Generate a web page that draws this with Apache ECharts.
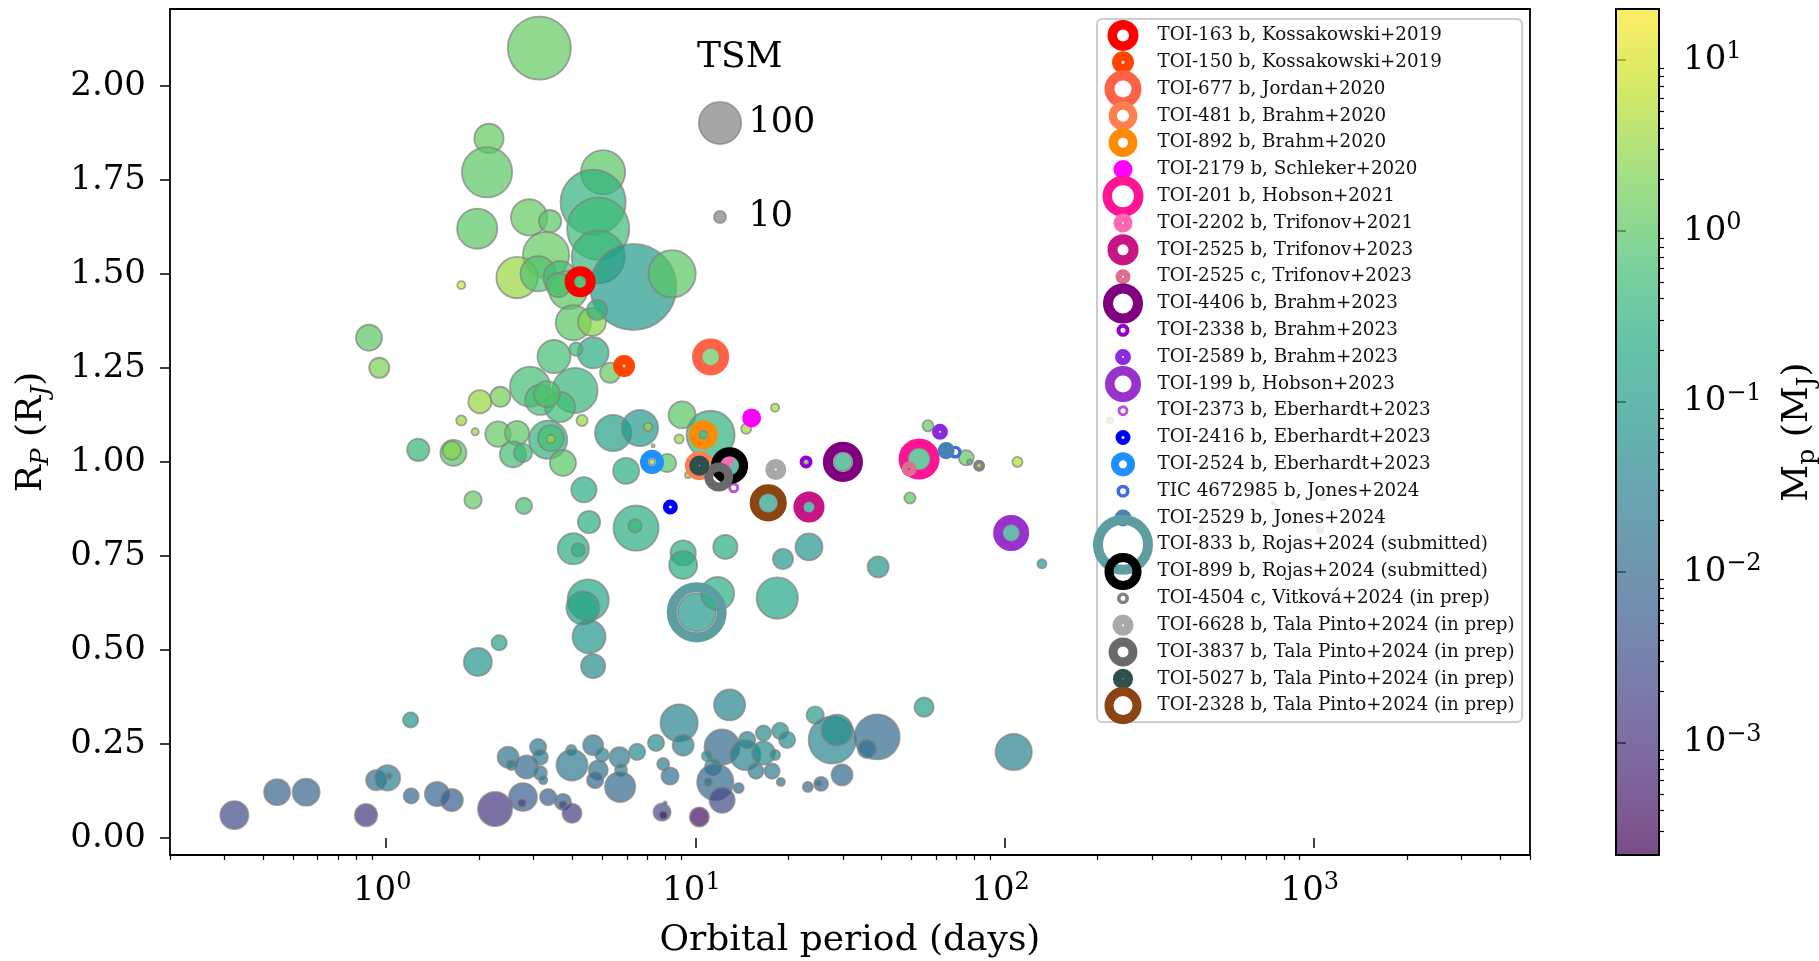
<!DOCTYPE html>
<html>
<head>
<meta charset="utf-8">
<title>Planet radius vs orbital period</title>
<script src="https://cdn.jsdelivr.net/npm/echarts@6/dist/echarts.min.js"></script>
<style>
  html, body { margin: 0; padding: 0; background: #ffffff; }
  #chart { width: 1819px; height: 961px; }
</style>
</head>
<body>
<div id="chart"></div>
<script>
// ---------------------------------------------------------------------------
// Data
// ---------------------------------------------------------------------------

// Known planets: [orbital period (days), radius (R_J), mass (M_J), TSM]
const catalog = [
  [3.13, 2.10, 1.26, 218], [2.15, 1.86, 1.26, 50], [2.12, 1.77, 1.0, 140], [1.97, 1.62, 1.0, 91],
  [1.75, 1.47, 10, 5], [0.88, 1.33, 1.0, 40], [0.95, 1.25, 2.0, 25], [2.01, 1.16, 3.2, 32],
  [1.75, 1.11, 3.2, 7.4], [1.94, 1.08, 3.2, 4.2], [5.03, 1.77, 1.0, 109], [4.67, 1.69, 0.32, 232],
  [4.85, 1.62, 0.5, 212], [4.85, 1.545, 0.4, 156], [6.3, 1.465, 0.1, 400], [8.41, 1.50, 1.0, 124],
  [2.9, 1.65, 1.26, 75], [3.39, 1.64, 1.0, 30], [3.29, 1.55, 1.26, 119], [2.65, 1.49, 3.2, 96],
  [3.1, 1.50, 0.79, 71], [3.65, 1.49, 0.63, 63], [3.88, 1.457, 1.0, 83], [4.24, 1.479, 0.63, 17],
  [3.6, 1.47, 0.79, 35], [4.03, 1.37, 1.0, 71], [4.63, 1.372, 2.5, 46], [4.81, 1.404, 0.32, 25],
  [4.67, 1.29, 0.25, 56], [3.49, 1.28, 0.63, 63], [4.11, 1.30, 0.5, 12], [5.3, 1.237, 1.26, 25],
  [5.88, 1.255, 4.0, 3.3], [2.92, 1.20, 0.63, 91], [4.08, 1.19, 0.4, 114], [3.15, 1.165, 0.63, 53],
  [2.34, 1.173, 1.6, 25], [4.3, 1.11, 3.2, 8.7], [3.65, 1.146, 0.5, 53], [3.31, 1.18, 0.79, 40],
  [2.3, 1.074, 1.26, 38], [2.65, 1.077, 1.0, 35], [2.57, 1.02, 0.63, 40], [2.77, 1.024, 0.5, 21],
  [3.34, 1.059, 0.32, 83], [3.41, 1.063, 0.63, 40], [3.41, 1.061, 4.0, 5.2], [3.73, 0.997, 1.0, 40],
  [5.42, 1.077, 0.126, 75], [6.62, 1.09, 0.1, 75], [7.03, 1.093, 4.0, 5.2], [9.06, 1.125, 1.0, 43],
  [11.2, 1.072, 0.32, 129], [10.6, 1.072, 0.63, 5.2], [8.86, 1.061, 3.2, 6.2], [7.3, 1.043, 7.9, 1.3],
  [8.1, 0.997, 1.0, 21], [7.24, 1.0, 3.2, 3.3], [5.97, 0.976, 0.25, 40], [4.36, 0.926, 0.25, 38],
  [4.53, 0.84, 0.25, 30], [4.03, 0.769, 0.25, 56], [4.18, 0.766, 0.32, 12], [6.43, 0.824, 0.25, 114],
  [6.38, 0.83, 0.4, 12], [1.91, 0.899, 1.26, 19], [2.79, 0.883, 0.63, 17], [1.27, 1.032, 0.4, 30],
  [1.65, 1.024, 1.0, 40], [1.63, 1.03, 2.5, 21], [4.5, 0.633, 0.2, 96], [4.33, 0.612, 0.126, 63],
  [4.53, 0.535, 0.079, 63], [4.67, 0.457, 0.05, 35], [1.98, 0.468, 0.079, 46], [2.32, 0.519, 0.16, 15],
  [1.2, 0.314, 0.079, 15], [9.13, 0.758, 0.25, 38], [9.13, 0.726, 0.25, 46], [12.5, 0.774, 0.25, 35],
  [23.3, 0.774, 0.079, 43], [19.2, 0.742, 0.1, 25], [39.0, 0.721, 0.079, 27], [10.1, 0.60, 0.1, 83],
  [11.8, 0.65, 0.25, 63], [18.4, 0.638, 0.2, 96], [11.2, 1.279, 1.26, 21], [52.9, 1.008, 0.32, 30],
  [23.3, 0.88, 0.1, 10], [30.0, 1.0, 0.25, 21], [105, 0.811, 0.126, 19], [17.2, 0.891, 0.126, 23],
  [12.9, 0.99, 0.16, 25], [22.8, 1.0, 3.2, 2], [82.7, 0.99, 4.0, 2], [14.6, 1.088, 3.2, 7.4],
  [18.1, 1.144, 4.0, 5.2], [9.47, 0.965, 3.2, 3.3], [56.5, 1.096, 1.26, 8.7], [75.1, 1.011, 1.26, 15],
  [77, 1.0, 0.63, 2.5], [110, 1.0, 5.0, 7.4], [49.4, 0.904, 1.0, 8.7], [132, 0.729, 0.1, 6.2],
  [219, 1.11, 1.0, 3.3], [431, 0.824, 0.1, 2], [738, 0.891, 0.126, 1.3], [1070, 0.907, 0.25, 3.3],
  [1047, 0.819, 0.25, 3.3],
  [0.323, 0.061, 0.0025, 46], [0.444, 0.122, 0.008, 40], [0.551, 0.122, 0.008, 43], [0.861, 0.061, 0.00126, 30],
  [0.928, 0.154, 0.016, 25], [1.01, 0.16, 0.025, 38], [1.02, 0.165, 0.04, 3.3], [1.205, 0.112, 0.008, 15],
  [1.46, 0.117, 0.008, 35], [1.63, 0.101, 0.0063, 30], [2.25, 0.077, 0.00126, 67], [2.77, 0.109, 0.0063, 46],
  [2.75, 0.093, 0.002, 5.2], [3.34, 0.109, 0.0063, 17], [3.73, 0.096, 0.008, 17], [3.73, 0.088, 0.0025, 5.2],
  [3.99, 0.066, 0.0016, 23], [2.48, 0.215, 0.016, 27], [2.54, 0.194, 0.032, 7.4], [2.84, 0.189, 0.01, 32],
  [3.1, 0.242, 0.02, 17], [3.15, 0.215, 0.02, 15], [3.15, 0.173, 0.02, 12], [3.22, 0.154, 0.02, 5.2],
  [3.97, 0.234, 0.032, 7.4], [3.99, 0.194, 0.02, 56], [4.67, 0.247, 0.016, 25], [4.99, 0.221, 0.032, 12],
  [4.85, 0.181, 0.016, 23], [4.74, 0.154, 0.01, 17], [5.68, 0.215, 0.02, 25], [5.75, 0.181, 0.032, 10],
  [5.71, 0.136, 0.01, 53], [6.48, 0.229, 0.05, 17], [7.46, 0.253, 0.05, 17], [8.86, 0.306, 0.032, 79],
  [9.13, 0.247, 0.032, 27], [7.87, 0.197, 0.025, 10], [8.28, 0.165, 0.0126, 19], [7.8, 0.069, 0.0032, 19],
  [7.87, 0.061, 0.0005, 5.2], [7.98, 0.093, 0.01, 1.3], [12.9, 0.354, 0.032, 56], [12.2, 0.242, 0.01, 71],
  [14.7, 0.261, 0.032, 17], [14.5, 0.221, 0.032, 53], [16.6, 0.279, 0.05, 15], [16.6, 0.226, 0.05, 32],
  [18.8, 0.285, 0.05, 17], [19.8, 0.261, 0.05, 17], [18.1, 0.221, 0.05, 7.4], [17.7, 0.178, 0.025, 15],
  [15.7, 0.178, 0.025, 15], [18.9, 0.149, 0.016, 5.2], [10.9, 0.218, 0.05, 7.4], [11.4, 0.189, 0.04, 17],
  [11.6, 0.149, 0.01, 75], [11.0, 0.149, 0.016, 5.2], [13.8, 0.133, 0.01, 7.4], [12.2, 0.101, 0.0025, 38],
  [10.3, 0.056, 0.00032, 23], [24.4, 0.327, 0.126, 19], [27.7, 0.261, 0.04, 124], [28.7, 0.287, 0.05, 56],
  [38.7, 0.269, 0.01, 114], [35.9, 0.237, 0.016, 21], [29.8, 0.168, 0.01, 27], [23.1, 0.136, 0.01, 7.4],
  [25.5, 0.144, 0.01, 13], [25.0, 0.146, 0.032, 3.3], [54.9, 0.348, 0.126, 23], [107, 0.229, 0.032, 75]
];

// Highlighted planets (drawn as rings, listed in the legend)
const highlightNames = [
  'TOI-163 b, Kossakowski+2019', 'TOI-150 b, Kossakowski+2019', 'TOI-677 b, Jordan+2020',
  'TOI-481 b, Brahm+2020', 'TOI-892 b, Brahm+2020', 'TOI-2179 b, Schleker+2020',
  'TOI-201 b, Hobson+2021', 'TOI-2202 b, Trifonov+2021', 'TOI-2525 b, Trifonov+2023',
  'TOI-2525 c, Trifonov+2023', 'TOI-4406 b, Brahm+2023', 'TOI-2338 b, Brahm+2023',
  'TOI-2589 b, Brahm+2023', 'TOI-199 b, Hobson+2023', 'TOI-2373 b, Eberhardt+2023',
  'TOI-2416 b, Eberhardt+2023', 'TOI-2524 b, Eberhardt+2023', 'TIC 4672985 b, Jones+2024',
  'TOI-2529 b, Jones+2024', 'TOI-833 b, Rojas+2024 (submitted)', 'TOI-899 b, Rojas+2024 (submitted)',
  'TOI-4504 c, Vitková+2024 (in prep)', 'TOI-6628 b, Tala Pinto+2024 (in prep)',
  'TOI-3837 b, Tala Pinto+2024 (in prep)', 'TOI-5027 b, Tala Pinto+2024 (in prep)',
  'TOI-2328 b, Tala Pinto+2024 (in prep)'
];
const highlightPeriods = [4.24, 5.88, 11.2, 10.3, 10.6, 15.2, 52.9, 12.4, 23.3, 49.1, 30.0, 22.8, 61.8,
                          105, 13.3, 8.3, 7.24, 69.2, 64.7, 10.1, 12.9, 82.7, 18.2, 11.9, 10.3, 17.2];
const highlightRadii = [1.479, 1.255, 1.279, 0.99, 1.072, 1.117, 1.008, 1.008, 0.88, 0.981, 1.0, 1.0, 1.08,
                        0.811, 0.931, 0.88, 1.0, 1.026, 1.03, 0.60, 0.99, 0.99, 0.98, 0.96, 0.99, 0.891];
const highlightTSM = [49.6, 25, 71, 43, 43, 18.6, 87, 18.6, 50, 11.6, 83, 8.7, 13.2,
                      67, 6.2, 11.6, 30, 8.7, 15, 186, 71, 7.4, 23, 43, 21, 71];

// Size key
const sizeKeyTSM = [100, 10];

// Axis ticks and ranges
const radiusTicks = [0, 0.25, 0.5, 0.75, 1.0, 1.25, 1.5, 1.75, 2.0];
const periodDecades = [1, 10, 100, 1000];
const massDecades = [1e-3, 1e-2, 1e-1, 1, 10];
const periodRange = [0.2, 5000];
const radiusRange = [-0.045, 2.204];
const massRange = [2.19e-4, 19.95];

// ---------------------------------------------------------------------------
// Styling
// ---------------------------------------------------------------------------
const FONT = "'DejaVu Serif', serif";
const ringColors = ['#ff0000', '#ff4500', '#ff6347', '#ff7f50', '#ff8c00', '#ff00ff', '#ff1493', '#ff69b4',
                    '#c71585', '#db7093', '#800080', '#9400d3', '#8a2be2', '#9932cc', '#ba55d3', '#0000ff',
                    '#1e90ff', '#4169e1', '#4682b4', '#5f9ea0', '#000000', '#808080', '#a9a9a9', '#696969',
                    '#2f4f4f', '#8b4513'];
const ringHoles = [12, 3, 17, 12, 10, 0, 22, 2, 11, 2, 20, 5, 2, 17, 5, 3, 8, 6, 0, 40, 19, 5, 2, 11, 1, 19];
const viridis = ['#440154', '#482475', '#414487', '#355f8d', '#2a788e', '#21918c',
                 '#22a884', '#44bf70', '#7ad151', '#bddf26', '#fde725'];

// marker diameter (px) for a given TSM
const outerSize = tsm => 4.4 * Math.sqrt(tsm);
const bubbleSize = tsm => Math.max(2, outerSize(tsm) - 1.8);

function ringItem(i, value) {
  const outer = outerSize(highlightTSM[i]);
  const hole = ringHoles[i];
  if (hole <= 0) {
    return { value, symbolSize: outer, itemStyle: { color: ringColors[i], borderWidth: 0, opacity: 1 } };
  }
  return {
    value,
    symbolSize: (outer + hole) / 2,
    itemStyle: { color: 'rgba(0,0,0,0)', borderColor: ringColors[i], borderWidth: (outer - hole) / 2, opacity: 1 }
  };
}

function minorTicks(lo, hi) {
  const out = [];
  for (let e = -5; e <= 4; e++) {
    for (let k = 2; k <= 9; k++) {
      const v = k * Math.pow(10, e);
      if (v >= lo * 0.999 && v <= hi * 1.001) out.push(v);
    }
  }
  return out;
}

function powerLabel(v) {
  const e = Math.round(Math.log10(v));
  return '{b|10}{s|' + (e < 0 ? '\u2212' + (-e) : e) + '}';
}
const powerRich = {
  b: { fontFamily: FONT, fontSize: 34, color: '#000', lineHeight: 40 },
  s: { fontFamily: FONT, fontSize: 24, color: '#000', lineHeight: 24, verticalAlign: 'top' }
};

// ---------------------------------------------------------------------------
// Series data
// ---------------------------------------------------------------------------
const bubbleData = catalog.map(r => [r[0], r[1], Math.log10(r[2]), r[3]]);
const ringData = highlightNames.map((n, i) => ringItem(i, [highlightPeriods[i], highlightRadii[i]]));
const legendMarks = highlightNames.map((n, i) => ringItem(i, [0, i]));
const legendTexts = highlightNames.map((n, i) => [1, i]);

const chart = echarts.init(document.getElementById('chart'), null, { renderer: 'canvas' });

chart.setOption({
  animation: false,
  backgroundColor: '#ffffff',
  title: {
    text: 'TSM', left: 697, top: 40, padding: 0,
    textStyle: { fontFamily: FONT, fontSize: 36, fontWeight: 'normal', color: '#000' }
  },
  grid: [
    { left: 170, top: 9, width: 1360, height: 846, show: true, borderColor: '#000', borderWidth: 1.8,
      outerBoundsMode: 'none', containLabel: false },
    { left: 1123, top: 22, width: 34, height: 697, outerBoundsMode: 'none', containLabel: false },
    { left: 720, top: 76, width: 28, height: 188, outerBoundsMode: 'none', containLabel: false },
    { left: 1616, top: 9, width: 43, height: 846, outerBoundsMode: 'none', containLabel: false }
  ],
  xAxis: [
    {
      type: 'log', gridIndex: 0, min: periodRange[0], max: periodRange[1], position: 'bottom',
      name: 'Orbital period (days)', nameLocation: 'middle', nameGap: 68,
      nameTextStyle: { fontFamily: FONT, fontSize: 36, color: '#000' },
      axisLine: { show: false }, splitLine: { show: false },
      axisTick: { customValues: periodDecades, length: 10, lineStyle: { color: '#000', width: 1.5 } },
      axisLabel: { customValues: periodDecades, margin: 16, formatter: powerLabel, rich: powerRich,
                   padding: [0, 8, 0, 0] }
    },
    {
      type: 'log', gridIndex: 0, min: periodRange[0], max: periodRange[1], position: 'bottom',
      axisLine: { show: false }, splitLine: { show: false }, axisLabel: { show: false },
      axisTick: { customValues: minorTicks(periodRange[0], periodRange[1]), length: 5,
                  lineStyle: { color: '#000', width: 1.2 } }
    },
    { type: 'value', gridIndex: 1, min: 0, max: 1, show: false },
    { type: 'value', gridIndex: 2, min: 0, max: 1, show: false },
    { type: 'value', gridIndex: 3, min: 0, max: 1, show: false }
  ],
  yAxis: [
    {
      type: 'value', gridIndex: 0, min: radiusRange[0], max: radiusRange[1], position: 'left',
      name: '{r|R}{sub|P}{r| (R}{sub|J}{r|)}', nameLocation: 'middle', nameGap: 116,
      nameTextStyle: {
        rich: {
          r: { fontFamily: FONT, fontSize: 36, color: '#000', lineHeight: 44 },
          sub: { fontFamily: FONT, fontSize: 25, fontStyle: 'italic', color: '#000', lineHeight: 30, verticalAlign: 'bottom' }
        }
      },
      axisLine: { show: false }, splitLine: { show: false },
      axisTick: { customValues: radiusTicks, length: 10, lineStyle: { color: '#000', width: 1.5 } },
      axisLabel: { customValues: radiusTicks, margin: 24, fontFamily: FONT, fontSize: 34, color: '#000',
                   formatter: v => v.toFixed(2) }
    },
    { type: 'category', gridIndex: 1, data: highlightNames, inverse: true, show: false },
    { type: 'category', gridIndex: 2, data: sizeKeyTSM.map(String), inverse: true, show: false },
    {
      type: 'log', gridIndex: 3, min: massRange[0], max: massRange[1], position: 'right',
      name: '{r|M}{sub|p}{r| (M}{sub|J}{r|)}', nameLocation: 'middle', nameGap: 117, nameRotate: 90,
      nameTextStyle: {
        rich: {
          r: { fontFamily: FONT, fontSize: 36, color: '#000', lineHeight: 44 },
          sub: { fontFamily: FONT, fontSize: 25, color: '#000', lineHeight: 30, verticalAlign: 'bottom' }
        }
      },
      axisLine: { show: false }, splitLine: { show: false },
      axisTick: { customValues: massDecades, length: 10, lineStyle: { color: '#000', width: 1.5 } },
      axisLabel: { customValues: massDecades, margin: 24, formatter: powerLabel, rich: powerRich,
                   verticalAlignMinLabel: 'middle', verticalAlignMaxLabel: 'middle' }
    },
    {
      type: 'log', gridIndex: 3, min: massRange[0], max: massRange[1], position: 'right',
      axisLine: { show: false }, splitLine: { show: false }, axisLabel: { show: false },
      axisTick: { customValues: minorTicks(massRange[0], massRange[1]), length: 5,
                  lineStyle: { color: '#000', width: 1.2 } }
    }
  ],
  visualMap: {
    type: 'continuous', show: false, seriesIndex: 0, dimension: 2,
    min: Math.log10(massRange[0]), max: Math.log10(massRange[1]),
    inRange: { color: viridis }
  },
  graphic: [
    {
      type: 'rect', z: 50,
      shape: { x: 1097, y: 19, width: 425, height: 703, r: 5 },
      style: { fill: 'rgba(255,255,255,0.8)', stroke: '#cccccc', lineWidth: 2 }
    }
  ],
  series: [
    {
      name: 'catalog', type: 'scatter', xAxisIndex: 0, yAxisIndex: 0, z: 2,
      data: bubbleData, symbol: 'circle',
      symbolSize: v => bubbleSize(v[3]),
      itemStyle: { opacity: 0.7, borderColor: '#808080', borderWidth: 1.8 },
      emphasis: { disabled: true }, silent: true
    },
    {
      name: 'highlighted', type: 'scatter', xAxisIndex: 0, yAxisIndex: 0, z: 3,
      data: ringData, symbol: 'circle', itemStyle: { opacity: 1 },
      emphasis: { disabled: true }, silent: true
    },
    {
      name: 'legendMarks', type: 'scatter', xAxisIndex: 2, yAxisIndex: 1, z: 60, clip: false,
      data: legendMarks, symbol: 'circle', itemStyle: { opacity: 1 },
      emphasis: { disabled: true }, silent: true
    },
    {
      name: 'legendTexts', type: 'scatter', xAxisIndex: 2, yAxisIndex: 1, z: 60, clip: false,
      data: legendTexts, symbolSize: 1, itemStyle: { color: 'rgba(0,0,0,0)', opacity: 1 },
      label: {
        show: true, position: 'right', distance: 0, fontFamily: FONT, fontSize: 18.3, color: '#111',
        formatter: p => highlightNames[p.dataIndex]
      },
      emphasis: { disabled: true }, silent: true
    },
    {
      name: 'sizeKey', type: 'scatter', xAxisIndex: 3, yAxisIndex: 2, z: 5, clip: false,
      data: sizeKeyTSM.map((t, i) => [0, i, t]), symbol: 'circle',
      symbolSize: v => bubbleSize(v[2]),
      itemStyle: { color: '#808080', opacity: 0.7, borderColor: '#808080', borderWidth: 1.8 },
      emphasis: { disabled: true }, silent: true
    },
    {
      name: 'sizeKeyText', type: 'scatter', xAxisIndex: 3, yAxisIndex: 2, z: 5, clip: false,
      data: sizeKeyTSM.map((t, i) => [1, i]), symbolSize: 1, itemStyle: { color: 'rgba(0,0,0,0)', opacity: 1 },
      label: {
        show: true, position: 'right', distance: 0, fontFamily: FONT, fontSize: 35, color: '#000',
        formatter: p => String(sizeKeyTSM[p.dataIndex])
      },
      emphasis: { disabled: true }, silent: true
    },
    {
      name: 'colorbar', type: 'custom', xAxisIndex: 4, yAxisIndex: 3, z: 2, clip: false, silent: true,
      data: [[0, massRange[0], 1, massRange[1]]],
      encode: { x: [0, 2], y: [1, 3] },
      renderItem: (params, api) => {
        const p0 = api.coord([api.value(0), api.value(1)]);
        const p1 = api.coord([api.value(2), api.value(3)]);
        const x = Math.min(p0[0], p1[0]), y = Math.min(p0[1], p1[1]);
        const w = Math.abs(p1[0] - p0[0]), h = Math.abs(p1[1] - p0[1]);
        const stops = viridis.map((c, i) => ({ offset: i / (viridis.length - 1), color: c }));
        return {
          type: 'group',
          children: [
            { type: 'rect', shape: { x, y, width: w, height: h },
              style: { fill: new echarts.graphic.LinearGradient(0, 1, 0, 0, stops), opacity: 0.7 } },
            { type: 'rect', shape: { x, y, width: w, height: h },
              style: { fill: 'none', stroke: '#000', lineWidth: 2 } }
          ]
        };
      }
    }
  ]
});
</script>
</body>
</html>
